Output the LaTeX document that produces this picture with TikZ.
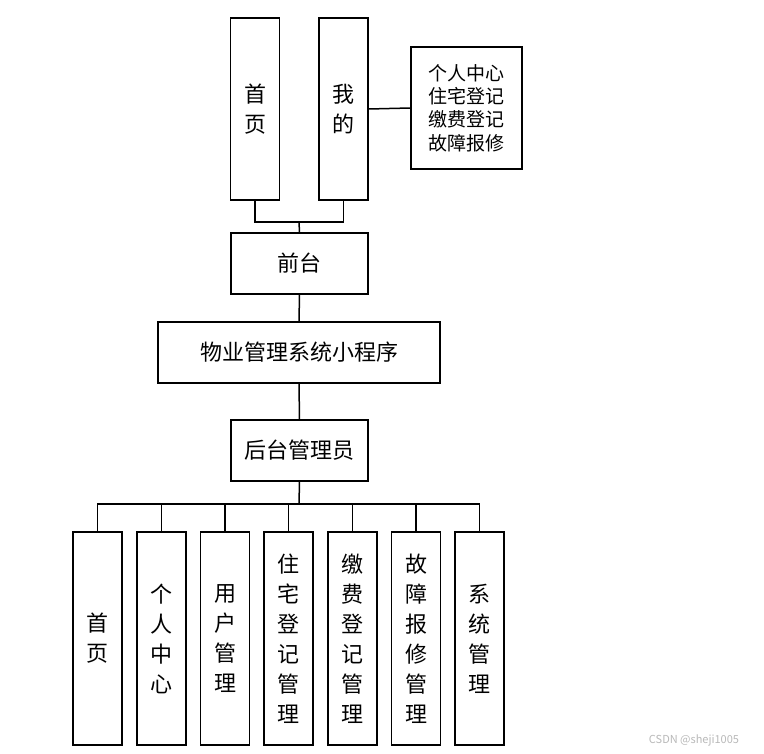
\documentclass[tikz,border=0pt]{standalone}
\usepackage{fontspec}
\setmainfont{Noto Sans CJK SC}
\usepackage{tikz}
\usetikzlibrary{positioning, calc}

\begin{document}
\begin{tikzpicture}[
        x=1pt, y=-1pt, % <--- one unit is one pixel of the page
        line width=1.5pt,
        % Define the style for the tall boxes
        tallbox/.style={
            rectangle, draw, line width=1.5pt, fill=white,
            minimum width=49pt, inner sep=0pt,
            align=center, font=\fontsize{22}{30}\selectfont
        },
        % Define the style for the wide boxes
        widebox/.style={
            rectangle, draw, line width=1.5pt, fill=white,
            minimum height=61pt, inner sep=0pt,
            align=center, font=\fontsize{22}{26}\selectfont
        }
    ]

        \useasboundingbox[fill=white] (0,0) rectangle (764,754);

        % ==========================
        % FRONT END
        % ==========================
        \node[tallbox, minimum height=182pt] (home) at (255, 109)   {首\\页};
        \node[tallbox, minimum height=182pt] (mine) at (343.5, 109) {我\\的};
        \node[rectangle, draw, line width=1.5pt, minimum width=111pt, minimum height=122pt,
              align=left, inner sep=0pt, font=\fontsize{19}{23.3}\selectfont]
            (mineList) at (466.5, 108) {个人中心\\住宅登记\\缴费登记\\故障报修};

        \node[widebox, minimum width=137pt] (front) at (299.5, 263.5) {前台};

        % Front connections
        \coordinate (frontJoin) at (299, 222);
        \draw (home.south) |- (frontJoin) -| (mine.south);
        \draw (frontJoin) -- (front.north);
        \draw (mine.east) -- (mineList.west);


        % ==========================
        % SYSTEM
        % ==========================
        \node[widebox, minimum width=282pt] (app)   at (299, 352.5)   {物业管理系统小程序};
        \node[widebox, minimum width=137pt] (admin) at (299.5, 450.5) {后台管理员};

        \draw (front.south) -- (app.north);
        \draw (app.south) -- (admin.north);


        % ==========================
        % BACK END
        % ==========================
        \node[tallbox, minimum height=213pt] (adHome)   at (97.5, 638.5)  {首\\页};
        \node[tallbox, minimum height=213pt] (adCenter) at (161.5, 638.5) {个\\人\\中\\心};
        \node[tallbox, minimum height=213pt] (adUser)   at (225, 638.5)   {用\\户\\管\\理};
        \node[tallbox, minimum height=213pt] (adHouse)  at (288.5, 638.5) {住\\宅\\登\\记\\管\\理};
        \node[tallbox, minimum height=213pt] (adFee)    at (352.5, 638.5) {缴\\费\\登\\记\\管\\理};
        \node[tallbox, minimum height=213pt] (adRepair) at (416, 638.5)   {故\\障\\报\\修\\管\\理};
        \node[tallbox, minimum height=213pt] (adSys)    at (479.5, 638.5) {系\\统\\管\\理};

        % Back connections
        \coordinate (adminBus) at (299, 504);
        \draw (admin.south) -- (adminBus);
        \draw (adminBus) -| (adHome.north);
        \draw (adminBus) -| (adCenter.north);
        \draw (adminBus) -| (adUser.north);
        \draw (adminBus) -| (adHouse.north);
        \draw (adminBus) -| (adFee.north);
        \draw (adminBus) -| (adRepair.north);
        \draw (adminBus) -| (adSys.north);

        % watermark
        \node[text=gray!55, font=\fontsize{11}{13}\selectfont] (mark) at (694, 740) {CSDN @sheji1005};

\end{tikzpicture}
\end{document}
